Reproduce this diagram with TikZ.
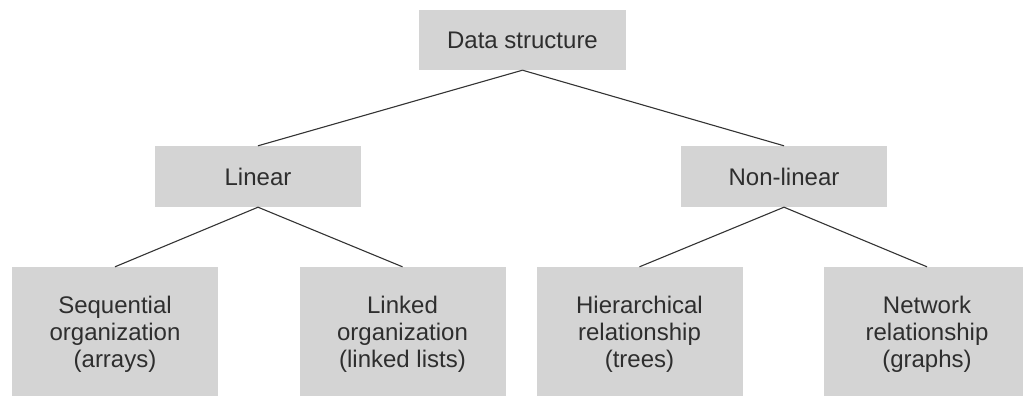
\documentclass[tikz,border=0pt]{standalone}
\usepackage{fontspec}
\setmainfont{Liberation Sans}
\definecolor{boxgray}{HTML}{D4D4D4}
\definecolor{txtgray}{HTML}{2E2E2E}
\definecolor{linegray}{HTML}{333333}
\tikzset{
  box/.style={fill=boxgray, draw=none, inner sep=0pt, text=txtgray,
    font=\fontsize{24}{27}\selectfont, align=center},
  topbox/.style={box, minimum width=207pt, minimum height=60pt},
  midbox/.style={box, minimum width=206pt, minimum height=61pt},
  leafbox/.style={box, minimum width=206pt, minimum height=135pt},
  conn/.style={draw=linegray, line width=1.1pt}
}
\begin{document}
\begin{tikzpicture}[x=1pt,y=-1pt]
\useasboundingbox (0,0) rectangle (1023,396);
\node[topbox] (ds) at (522.5,40) {Data structure};
\node[midbox] (lin) at (258,176.5) {Linear};
\node[midbox] (nonlin) at (784,176.5) {Non-linear};
\node[leafbox] (seq) at (115,334.5) {Sequential\\organization\\(arrays)};
\node[leafbox] (lnk) at (402.5,334.5) {Linked\\organization\\(linked lists)};
\node[leafbox] (hier) at (639.5,334.5) {Hierarchical\\relationship\\(trees)};
\node[leafbox] (net) at (927,334.5) {Network\\relationship\\(graphs)};
\draw[conn] (ds.south) -- (lin.north);
\draw[conn] (ds.south) -- (nonlin.north);
\draw[conn] (lin.south) -- (seq.north);
\draw[conn] (lin.south) -- (lnk.north);
\draw[conn] (nonlin.south) -- (hier.north);
\draw[conn] (nonlin.south) -- (net.north);
\end{tikzpicture}
\end{document}
